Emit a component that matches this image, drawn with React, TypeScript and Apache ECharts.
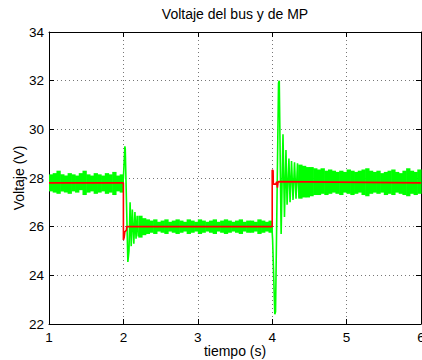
import React, { useEffect, useRef } from "react";
import * as echarts from "echarts";

const xTicks = [1, 2, 3, 4, 5, 6];
const yTicks = [22, 24, 26, 28, 30, 32, 34];

// steady-state noise envelope of the green signal (blocks of 0.05 s)
const segAStart = 1.0;
const upperA = [28.15, 28.2, 28.3, 28.15, 28.1, 28.2, 28.15, 28.1, 28.2, 28.3, 28.15, 28.1, 28.2, 28.15, 28.1, 28.2, 28.15, 28.25, 28.1, 28.15];
const lowerA = [27.45, 27.4, 27.35, 27.45, 27.4, 27.35, 27.45, 27.4, 27.5, 27.3, 27.4, 27.45, 27.35, 27.4, 27.45, 27.35, 27.4, 27.3, 27.45, 27.4];

const segBStart = 2.2;
const upperB = [26.45, 26.35, 26.3, 26.25, 26.3, 26.2, 26.25, 26.3, 26.2, 26.25, 26.3, 26.25, 26.2, 26.3, 26.25, 26.2, 26.3, 26.25, 26.2, 26.25, 26.3, 26.2, 26.25, 26.3, 26.25, 26.2, 26.25, 26.3, 26.2, 26.25, 26.25, 26.2, 26.3, 26.25, 26.2, 26.25];
const lowerB = [25.55, 25.65, 25.7, 25.75, 25.7, 25.8, 25.75, 25.7, 25.8, 25.75, 25.7, 25.75, 25.8, 25.7, 25.75, 25.8, 25.7, 25.75, 25.8, 25.75, 25.7, 25.8, 25.75, 25.7, 25.75, 25.8, 25.75, 25.7, 25.8, 25.75, 25.75, 25.8, 25.7, 25.75, 25.8, 25.75];

const segCStart = 4.35;
const upperC = [28.55, 28.5, 28.45, 28.45, 28.4, 28.35, 28.4, 28.3, 28.35, 28.3, 28.25, 28.3, 28.25, 28.35, 28.3, 28.25, 28.3, 28.35, 28.4, 28.3, 28.25, 28.3, 28.2, 28.25, 28.3, 28.35, 28.25, 28.2, 28.3, 28.4, 28.3, 28.25, 28.35];
const lowerC = [27.15, 27.2, 27.2, 27.25, 27.3, 27.3, 27.35, 27.3, 27.35, 27.4, 27.35, 27.3, 27.4, 27.35, 27.3, 27.35, 27.4, 27.3, 27.25, 27.35, 27.4, 27.35, 27.4, 27.3, 27.35, 27.3, 27.4, 27.35, 27.3, 27.25, 27.35, 27.3, 27.35];
const blockStep = 0.05;

// transient swings of the green signal
const tr2T = [1.99, 2.0, 2.02, 2.025, 2.06, 2.075, 2.09, 2.105, 2.12, 2.14, 2.155, 2.17, 2.185, 2.2];
const tr2V = [27.8, 28.0, 29.3, 29.2, 24.55, 25.0, 27.0, 25.2, 26.7, 25.3, 26.6, 25.5, 26.45, 25.6];
const tr4T = [3.995, 4.005, 4.035, 4.045, 4.085, 4.095, 4.12, 4.145, 4.165, 4.185, 4.2, 4.225, 4.24, 4.26, 4.28, 4.3, 4.32, 4.34, 4.36];
const tr4V = [26.0, 25.5, 22.4, 22.5, 31.9, 32.0, 25.7, 29.8, 26.4, 29.15, 26.9, 28.8, 27.0, 28.7, 27.1, 28.65, 27.15, 28.6, 27.2];

// averaged (red) signal
const redT = [1, 2, 2, 2.01, 2.02, 2.04, 2.045, 4, 4, 4.012, 4.015, 4.05, 4.06, 4.07, 4.08, 6];
const redV = [27.8, 27.8, 25.45, 25.55, 25.8, 25.85, 26.0, 26.0, 28.33, 28.3, 27.75, 27.75, 27.85, 27.6, 27.85, 27.8];

const FONT = "Liberation Sans, Arial, Helvetica, sans-serif";

function blocks(start: number, up: number[], lo: number[]) {
  return up.map((u, i) => [start + i * blockStep, start + (i + 1) * blockStep, lo[i], u]);
}

export default function App() {
  const ref = useRef<HTMLDivElement>(null);
  useEffect(() => {
    if (!ref.current) return;
    const chart = echarts.init(ref.current, undefined, { renderer: "svg" });
    const bandData = [
      ...blocks(segAStart, upperA, lowerA),
      ...blocks(segBStart, upperB, lowerB),
      ...blocks(segCStart, upperC, lowerC),
    ];
    const axisCommon = {
      axisLine: { show: true, lineStyle: { color: "#000", width: 1 } },
      axisTick: { show: true, inside: true, length: 5, lineStyle: { color: "#000" } },
    };
    chart.setOption({
      animation: false,
      backgroundColor: "#fff",
      graphic: [
        {
          type: "text",
          x: 235,
          y: 14,
          style: {
            text: "Voltaje del bus y de MP",
            fill: "#000",
            font: `14px ${FONT}`,
            textAlign: "center",
            textVerticalAlign: "middle",
          },
        },
      ],
      grid: { left: 49, right: 1, top: 32, bottom: 36, containLabel: false, outerBoundsMode: "none" },
      xAxis: [
        {
          type: "value",
          min: xTicks[0],
          max: xTicks[xTicks.length - 1],
          interval: 1,
          position: "bottom",
          ...axisCommon,
          axisLabel: { color: "#000", fontSize: 13.5, fontFamily: FONT, margin: 6 },
          splitLine: { show: true, lineStyle: { color: "#777", type: [1, 3], width: 1 } },
          name: "tiempo (s)",
          nameLocation: "middle",
          nameGap: 20,
          nameMoveOverlap: false,
          nameTextStyle: { color: "#000", fontSize: 14, fontFamily: FONT },
        },
        {
          type: "value",
          min: xTicks[0],
          max: xTicks[xTicks.length - 1],
          interval: 1,
          position: "top",
          ...axisCommon,
          axisLabel: { show: false },
          splitLine: { show: false },
        },
      ],
      yAxis: [
        {
          type: "value",
          min: yTicks[0],
          max: yTicks[yTicks.length - 1],
          interval: 2,
          position: "left",
          ...axisCommon,
          axisLabel: { color: "#000", fontSize: 13.5, fontFamily: FONT, margin: 5 },
          splitLine: { show: true, lineStyle: { color: "#777", type: [1, 3], width: 1 } },
          name: "Voltaje (V)",
          nameLocation: "middle",
          nameGap: 23,
          nameMoveOverlap: false,
          nameTextStyle: { color: "#000", fontSize: 14, fontFamily: FONT },
        },
        {
          type: "value",
          min: yTicks[0],
          max: yTicks[yTicks.length - 1],
          interval: 2,
          position: "right",
          ...axisCommon,
          axisLabel: { show: false },
          splitLine: { show: false },
        },
      ],
      series: [
        {
          type: "custom",
          xAxisIndex: 0,
          yAxisIndex: 0,
          data: bandData,
          encode: { x: [0, 1], y: [2, 3] },
          z: 2,
          renderItem: (params: any, api: any) => {
            const p0 = api.coord([api.value(0), api.value(3)]);
            const p1 = api.coord([api.value(1), api.value(2)]);
            return {
              type: "rect",
              shape: { x: p0[0], y: p0[1], width: p1[0] - p0[0] + 0.6, height: p1[1] - p0[1] },
              style: { fill: "#00ff00" },
            };
          },
        },
        {
          type: "line",
          xAxisIndex: 0,
          yAxisIndex: 0,
          data: tr2T.map((t, i) => [t, tr2V[i]]),
          showSymbol: false,
          lineStyle: { color: "#00ff00", width: 1.6 },
          z: 3,
        },
        {
          type: "line",
          xAxisIndex: 0,
          yAxisIndex: 0,
          data: tr4T.map((t, i) => [t, tr4V[i]]),
          showSymbol: false,
          lineStyle: { color: "#00ff00", width: 1.6 },
          z: 3,
        },
        {
          type: "line",
          xAxisIndex: 0,
          yAxisIndex: 0,
          data: redT.map((t, i) => [t, redV[i]]),
          showSymbol: false,
          lineStyle: { color: "#ff0000", width: 1.6 },
          z: 5,
        },
      ],
    });
    return () => chart.dispose();
  }, []);
  return (
    <div
      ref={ref}
      style={{ position: "fixed", left: 0, top: 0, width: 422, height: 360, background: "#fff" }}
    />
  );
}
